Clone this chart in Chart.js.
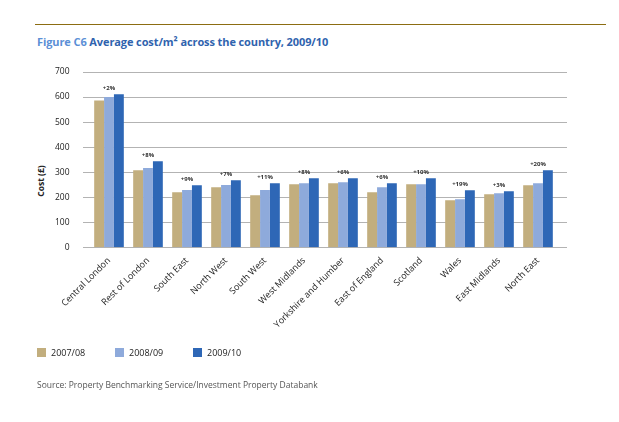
<!DOCTYPE html>
<html>
<head>
<meta charset="utf-8">
<script src="https://cdn.jsdelivr.net/npm/chart.js@4"></script>
<style>
    html, body { margin: 0; padding: 0; background: #fff; }
    body { width: 619px; height: 422px; position: relative; overflow: hidden; font-family: 'Open Sans', sans-serif; }
    #rule { position: absolute; left: 35px; top: 23.5px; width: 571px; height: 0; border-top: 1.5px solid #8c6d12; }
    #title { position: absolute; left: 37px; top: 34px; font-size: 11px; font-weight: bold; color: #2f63ae; white-space: nowrap; letter-spacing: -0.1px; }
    #title span { color: #5b8fd6; }
    #yTitle { position: absolute; left: 40px; top: 181px; transform: translate(-50%, -50%) rotate(-90deg); font-size: 8.5px; font-weight: bold; color: #222; white-space: nowrap; }
    #chartWrap { position: absolute; left: 0; top: 0; width: 619px; height: 422px; }
    #legend { position: absolute; left: 37px; top: 346px; display: flex; font-size: 9px; color: #222; }
    .item { display: flex; align-items: center; width: 78px; }
    .box { width: 9px; height: 9px; margin-right: 5px; }
    #source { position: absolute; left: 37px; top: 379px; font-size: 8.5px; color: #555; white-space: nowrap; }
</style>
</head>
<body>
<div id="rule"></div>
<div id="title"><span>Figure C6</span> Average cost/m² across the country, 2009/10</div>
<div id="yTitle">Cost (£)</div>
<div id="chartWrap"><canvas id="chart"></canvas></div>
<div id="legend"></div>
<div id="source">Source: Property Benchmarking Service/Investment Property Databank</div>
<script>
    const regions = ['Central London', 'Rest of London', 'South East', 'North West', 'South West', 'West Midlands',
        'Yorkshire and Humber', 'East of England', 'Scotland', 'Wales', 'East Midlands', 'North East'];
    const cost0708 = [586, 308, 220, 240, 208, 252, 256, 220, 252, 188, 212, 248];
    const cost0809 = [600, 317, 229, 249, 229, 256, 260, 240, 252, 192, 216, 256];
    const cost0910 = [611, 344, 248, 268, 256, 276, 276, 256, 276, 228, 224, 308];
    const changes = ['+2%', '+8%', '+9%', '+7%', '+11%', '+8%', '+6%', '+6%', '+10%', '+19%', '+3%', '+20%'];
    const seriesNames = ['2007/08', '2008/09', '2009/10'];
    const seriesColors = ['#c2ae7e', '#8eaadb', '#2e67b6'];
    const yTicks = [0, 100, 200, 300, 400, 500, 600, 700];

    // gridlines run a little past the bars on both sides
    const gridPlugin = {
        id: 'grid',
        beforeDatasetsDraw(chart) {
            const ctx = chart.ctx;
            const y = chart.scales.y;
            ctx.save();
            ctx.strokeStyle = '#b3b3b3';
            ctx.lineWidth = 1;
            yTicks.forEach(v => {
                const py = Math.round(y.getPixelForValue(v)) + 0.5;
                ctx.beginPath();
                ctx.moveTo(83, py);
                ctx.lineTo(567, py);
                ctx.stroke();
            });
            ctx.restore();
        }
    };

    const changePlugin = {
        id: 'changes',
        afterDatasetsDraw(chart) {
            const ctx = chart.ctx;
            const x = chart.scales.x;
            const y = chart.scales.y;
            ctx.save();
            ctx.font = 'bold 6px "Open Sans", sans-serif';
            ctx.fillStyle = '#333';
            ctx.textAlign = 'center';
            ctx.textBaseline = 'middle';
            changes.forEach((txt, i) => {
                const top = Math.max(cost0708[i], cost0809[i], cost0910[i]);
                ctx.fillText(txt, x.getPixelForValue(i), y.getPixelForValue(top) - 6);
            });
            ctx.restore();
        }
    };

    const data = [cost0708, cost0809, cost0910];

    new Chart(document.getElementById('chart'), {
        type: 'bar',
        data: {
            labels: regions,
            datasets: seriesNames.map((name, i) => ({
                label: name,
                data: data[i],
                backgroundColor: seriesColors[i],
                borderWidth: 0,
                categoryPercentage: 0.76,
                barPercentage: 1
            }))
        },
        options: {
            responsive: true,
            maintainAspectRatio: false,
            animation: false,
            layout: { padding: { top: 72, right: 61.5, bottom: 0, left: 0 } },
            plugins: {
                legend: { display: false },
                tooltip: { enabled: false }
            },
            scales: {
                x: {
                    grid: { display: false },
                    border: { display: false },
                    ticks: {
                        color: '#222',
                        font: { family: 'Open Sans', size: 9 },
                        autoSkip: false,
                        minRotation: 45,
                        maxRotation: 45,
                        padding: 0
                    },
                    afterFit(scale) { scale.height = 174.7; }
                },
                y: {
                    min: 0,
                    max: 700,
                    grid: { display: false },
                    border: { display: false },
                    ticks: {
                        stepSize: 100,
                        color: '#222',
                        font: { family: 'Open Sans', size: 8.5 },
                        padding: 12
                    },
                    afterFit(scale) { scale.width = 89.5; }
                }
            }
        },
        plugins: [gridPlugin, changePlugin]
    });

    const legend = document.getElementById('legend');
    seriesNames.forEach((name, i) => {
        const item = document.createElement('div');
        item.className = 'item';
        item.innerHTML = `<div class="box" style="background:${seriesColors[i]}"></div>${name}`;
        legend.appendChild(item);
    });
</script>
</body>
</html>
